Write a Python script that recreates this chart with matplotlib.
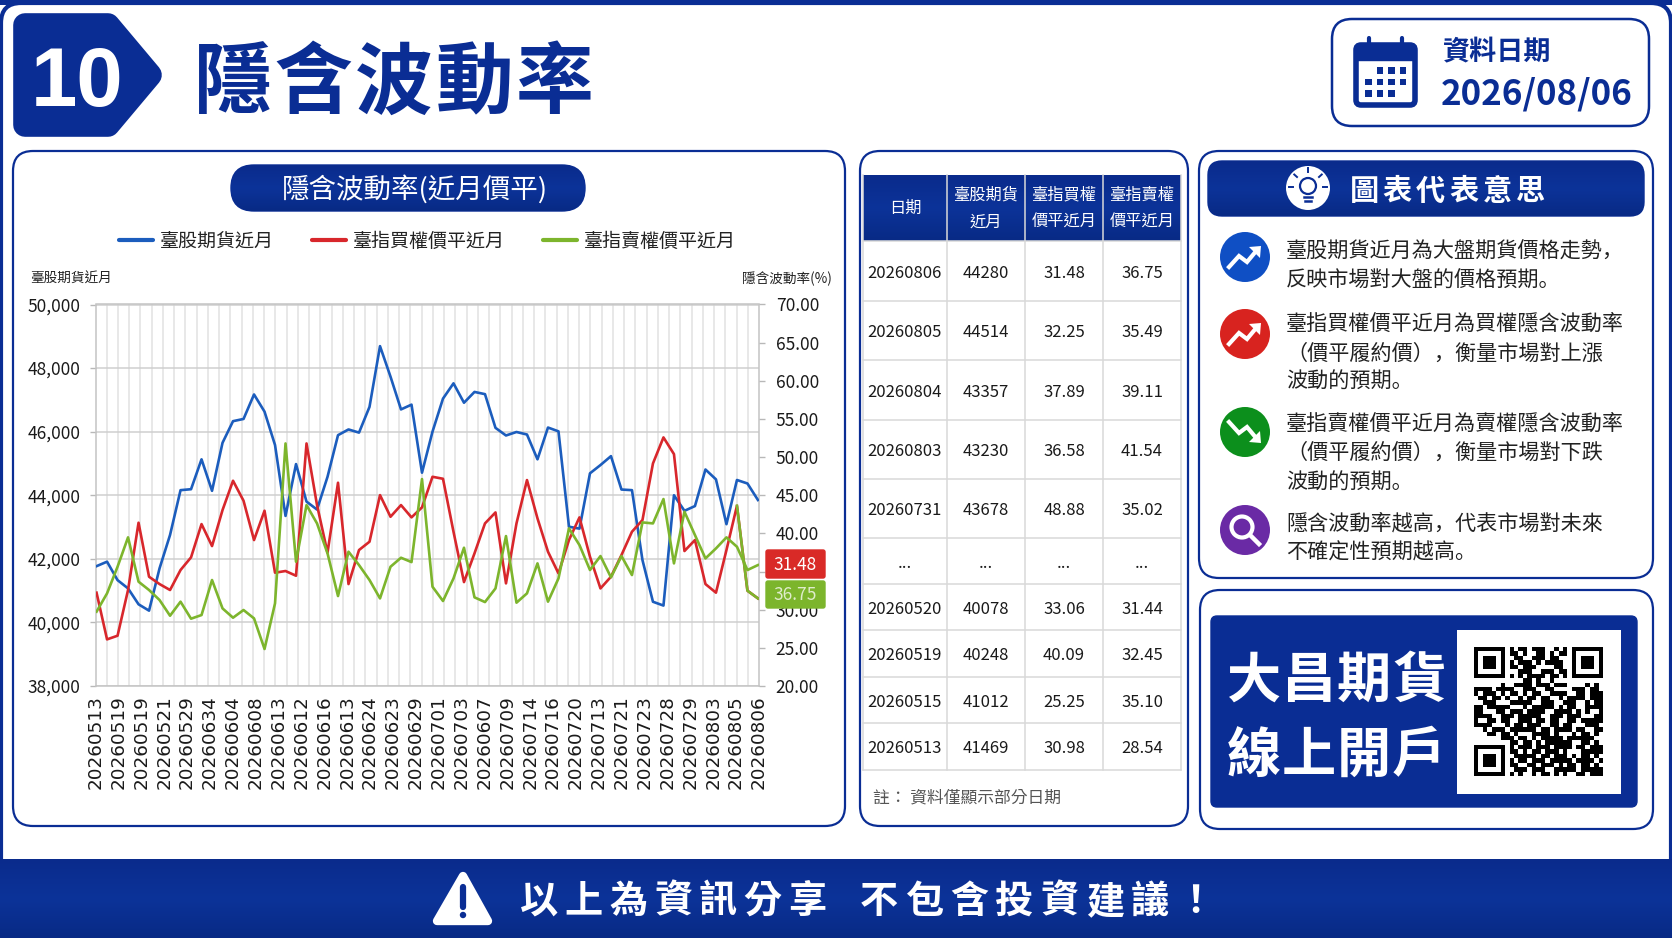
#!/usr/bin/env python3
from __future__ import annotations

import matplotlib

matplotlib.use("Agg")

import matplotlib.pyplot as plt
import numpy as np
from matplotlib.colors import LinearSegmentedColormap
from matplotlib.patches import Circle, FancyBboxPatch, Polygon, Rectangle

WIDTH, HEIGHT = 1672, 941
NAVY = "#0a2d94"
BLUE = "#1c5dbd"
RED = "#d8272c"
GREEN = "#7db52d"
CJK = "Noto Sans CJK TC"
CJK_BODY = "Noto Sans CJK SC"

# chart data
tick_dates = [
    "20260513", "20260519", "20260519", "20260521", "20260529", "20260634", "20260604", "20260608",
    "20260613", "20260612", "20260616", "20260613", "20260624", "20260623", "20260629", "20260701",
    "20260703", "20260607", "20260709", "20260714", "20260716", "20260720", "20260713", "20260721",
    "20260723", "20260728", "20260729", "20260803", "20260805", "20260806",
]
futures = [
    41770, 41910, 41330, 41070, 40570, 40370, 41700, 42750, 44160, 44190, 45130, 44140, 45650, 46330, 46400, 47170,
    46630, 45580, 43350, 44980, 43800, 43550, 44580, 45890, 46070, 45970, 46780, 48690, 47730, 46700, 46850, 44710,
    46000, 47040, 47520, 46910, 47250, 47180, 46120, 45880, 45990, 45910, 45130, 46130, 46010, 43010, 42950, 44690,
    44950, 45230, 44180, 44160, 41960, 40650, 40530, 44000, 43510, 43660, 44810, 44500, 43090, 44480, 44370, 43850,
]
call_iv = [
    32.23, 26.11, 26.59, 32.58, 41.40, 34.32, 33.36, 32.58, 35.20, 36.86, 41.22, 38.34, 43.06, 46.90, 44.28, 39.13,
    42.97, 34.85, 35.07, 34.45, 51.79, 43.71, 37.47, 46.64, 33.36, 37.82, 38.91, 45.02, 42.18, 43.71, 42.10, 43.41,
    47.42, 47.16, 40.22, 33.62, 37.38, 41.31, 42.75, 33.45, 41.31, 46.99, 41.97, 37.60, 34.76, 39.13, 42.10, 36.94,
    32.79, 34.32, 37.16, 40.22, 41.75, 49.17, 52.58, 50.39, 37.69, 39.13, 33.36, 32.23, 37.82, 43.62, 32.49, 31.48,
]
put_iv = [
    29.74, 32.14, 35.63, 39.48, 33.67, 32.58, 31.27, 29.21, 31.05, 28.82, 29.30, 33.89, 30.17, 28.95, 29.96, 28.86,
    24.85, 30.83, 51.79, 36.29, 43.71, 41.31, 37.38, 31.79, 37.60, 35.85, 33.89, 31.48, 35.63, 36.81, 36.24, 47.12,
    33.01, 31.14, 34.10, 38.12, 31.62, 31.00, 32.79, 39.65, 30.92, 32.14, 36.07, 31.05, 34.10, 40.66, 38.47, 35.20,
    37.03, 34.24, 37.03, 34.54, 41.44, 41.31, 44.50, 36.07, 42.84, 39.78, 36.72, 38.03, 39.48, 38.25, 35.20, 35.85,
]
left_ticks = [38000, 40000, 42000, 44000, 46000, 48000, 50000]
right_ticks = [20, 25, 30, 35, 40, 45, 50, 55, 60, 65, 70]
legend_names = ["臺股期貨近月", "臺指買權價平近月", "臺指賣權價平近月"]

# table data
table_head = [["日期"], ["臺股期貨", "近月"], ["臺指買權", "價平近月"], ["臺指賣權", "價平近月"]]
table_dates = ["20260806", "20260805", "20260804", "20260803", "20260731", "...", "20260520", "20260519", "20260515", "20260513"]
table_futures = ["44280", "44514", "43357", "43230", "43678", "...", "40078", "40248", "41012", "41469"]
table_call = ["31.48", "32.25", "37.89", "36.58", "48.88", "...", "33.06", "40.09", "25.25", "30.98"]
table_put = ["36.75", "35.49", "39.11", "41.54", "35.02", "...", "31.44", "32.45", "35.10", "28.54"]

explain_lines = [
    ["臺股期貨近月為大盤期貨價格走勢，", "反映市場對大盤的價格預期。"],
    ["臺指買權價平近月為買權隱含波動率", "（價平履約價），衡量市場對上漲", "波動的預期。"],
    ["臺指賣權價平近月為賣權隱含波動率", "（價平履約價），衡量市場對下跌", "波動的預期。"],
    ["隱含波動率越高，代表市場對未來", "不確定性預期越高。"],
]

qr_rows = [
    "11111110101101110010101111111",
    "10000010110100110101101000001",
    "10111010011001110110001011101",
    "10111010101110101111001011101",
    "10111010110111000011001011101",
    "10000010001110011101101000001",
    "11111110101011110110101111111",
    "00000000000110100100000000000",
    "00000010011110111011100001010",
    "11110111100111001100001110110",
    "10111010110101100111100110111",
    "01101101001011011001011110111",
    "00111000111110011100111001011",
    "11011111000101111101011001111",
    "11000110111011110011110101001",
    "11110011101111100111011100011",
    "10011011001110110110011011111",
    "11110001011011100110110001110",
    "00101110111111011011110110011",
    "00011011010001111010001011010",
    "00000011101101011111011111100",
    "00000000110110101111110011010",
    "11111110101110111011110110111",
    "10000010110101101110100011111",
    "10111010011111011011101011010",
    "10111010101101110111110111101",
    "10111010110011011101011011010",
    "10000010011101110011111011111",
    "11111110101001011010100110111",
]


def round_box(ax, x0, y0, x1, y1, radius, face="white", edge=NAVY, lw=1.6, zorder=2):
    patch = FancyBboxPatch(
        (x0, y0), x1 - x0, y1 - y0,
        boxstyle=f"round,pad=0,rounding_size={radius}",
        facecolor=face, edgecolor=edge, linewidth=lw, zorder=zorder,
    )
    ax.add_patch(patch)
    return patch


def shaded(ax, patch, x0, y0, x1, y1, colors, zorder):
    # soft vertical shading on the navy bars, clipped to the bar outline
    cmap = LinearSegmentedColormap.from_list("bar", colors)
    ramp = np.linspace(0, 1, 64).reshape(-1, 1)
    image = ax.imshow(ramp, cmap=cmap, extent=(x0, x1, y1, y0), aspect="auto", zorder=zorder)
    image.set_clip_path(patch)


def label(ax, x, y, text, size, color="#1a1a1a", family=CJK, weight="normal", ha="center", zorder=6):
    # CJK boxes sit high with va="center", so nudge them down in proportion to the size
    ax.text(x, y + 0.12 * size, text, fontsize=size, color=color, family=family, fontweight=weight, ha=ha, va="center", zorder=zorder)


def spaced(ax, x, y, text, pitch, size, color, weight="bold"):
    # letter-spaced headings are placed one character at a time
    for i, char in enumerate(text):
        label(ax, x + i * pitch, y, char, size, color=color, weight=weight)


def trend_icon(ax, cx, cy, face, down=False):
    flip = -1 if down else 1
    ax.add_patch(Circle((cx, cy), 25, facecolor=face, edgecolor="none", zorder=3))
    xs = [cx - 16, cx - 6, cx + 2, cx + 12]
    ys = [cy + flip * 10, cy - flip * 1, cy + flip * 5, cy - flip * 7]
    ax.plot(xs, ys, color="white", lw=3, solid_joinstyle="miter", zorder=4)
    head = [(cx + 16, cy - flip * 11), (cx + 4, cy - flip * 10), (cx + 15, cy + flip * 1)]
    ax.add_patch(Polygon(head, closed=True, facecolor="white", edgecolor="none", zorder=4))


def draw_frame(bg):
    bg.add_patch(Rectangle((0, 0), WIDTH, 5, facecolor=NAVY, edgecolor="none", zorder=1))
    round_box(bg, 1, 3, WIDTH - 1, HEIGHT + 30, 20, face="white", edge=NAVY, lw=3, zorder=1)
    band = Rectangle((0, 859), WIDTH, 79, facecolor="#0a2f95", edgecolor="none", zorder=2)
    bg.add_patch(band)
    shaded(bg, band, 0, 859, WIDTH, 938, ["#0a2b8c", "#0c3399", "#082a85"], 2.5)
    bg.add_patch(Rectangle((0, 938), WIDTH, 3, facecolor="white", edgecolor="none", zorder=2))


def draw_header(bg):
    badge = [(25, 25), (108, 25), (150, 75), (108, 125), (25, 125)]
    bg.add_patch(Polygon(badge, closed=True, facecolor=NAVY, edgecolor=NAVY, linewidth=17, joinstyle="round", zorder=2))
    label(bg, 77, 77, "10", 60, color="white", family="Liberation Sans", weight="bold")
    spaced(bg, 233, 78, "隱含波動率", 80.5, 56, NAVY)

    round_box(bg, 1332, 19, 1649, 126, 20, lw=1.8)
    # calendar icon
    round_box(bg, 1356, 45, 1415, 105, 5, face="white", edge=NAVY, lw=4, zorder=3)
    bg.add_patch(Rectangle((1356, 45), 59, 15, facecolor=NAVY, edgecolor=NAVY, zorder=3))
    for x in (1369, 1402):
        bg.plot([x, x], [38, 50], color=NAVY, lw=3, zorder=4, solid_capstyle="round")
    for row, cols in enumerate([(1, 2, 3), (0, 1, 2, 3), (0, 1, 2)]):
        for col in cols:
            bg.add_patch(Rectangle((1365 + col * 11.5, 67 + row * 11.5), 6.5, 6.5, facecolor=NAVY, edgecolor="none", zorder=4))
    label(bg, 1497, 50, "資料日期", 19.5, color=NAVY, weight="bold")
    label(bg, 1537, 91, "2026/08/06", 25.2, color=NAVY, weight="bold")


def draw_chart_panel(bg):
    round_box(bg, 13, 151, 845, 826, 20)
    pill = round_box(bg, 231, 165, 585, 211, 23, face=NAVY, edge=NAVY, lw=1)
    shaded(bg, pill, 231, 165, 585, 211, ["#0a2b8c", "#0c3399", "#082a85"], 2.5)
    label(bg, 415, 187, "隱含波動率(近月價平)", 19.8, color="white")

    colors = [BLUE, RED, GREEN]
    line_x = [119, 312, 543]
    for name, color, x in zip(legend_names, colors, line_x):
        bg.plot([x, x + 34], [240, 240], color=color, lw=3, solid_capstyle="round", zorder=4)
        label(bg, x + 41, 240, name, 13.7, ha="left", color="#222222")
    label(bg, 30, 278, legend_names[0], 9.8, ha="left", color="#222222")
    label(bg, 832, 278, "隱含波動率(%)", 9.8, ha="right", color="#222222")


def draw_chart(fig):
    ax = fig.add_axes([95.5 / WIDTH, 1 - 686 / HEIGHT, (759 - 95.5) / WIDTH, (686 - 304.5) / HEIGHT])
    ax.patch.set_alpha(0)
    x = np.arange(len(futures))
    ax.set_xlim(-0.1, len(futures) - 0.9)
    ax.set_ylim(left_ticks[0], left_ticks[-1])
    ax.set_yticks(left_ticks, [f"{v:,}" for v in left_ticks], family=CJK, fontsize=12.5, color="#1a1a1a")
    ax.tick_params(axis="y", length=4, width=1, color="#b8b8b8", pad=7)
    ax.set_xticks(np.linspace(-0.1, len(futures) - 0.9, len(tick_dates)), tick_dates, rotation=90, fontsize=13.2, color="#1a1a1a", family="DejaVu Sans")
    ax.tick_params(axis="x", length=0, pad=6.5)
    ax.set_xticks(np.linspace(-0.1, len(futures) - 0.9, 60), minor=True)
    ax.tick_params(axis="x", which="minor", length=0)
    ax.grid(True, axis="x", which="minor", color="#e2e2e2", lw=1.1)
    ax.grid(True, axis="y", which="major", color="#cfcfcf", lw=1.1)
    ax.set_axisbelow(True)
    for side in ("top", "left", "bottom", "right"):
        ax.spines[side].set_color("#c4c4c4")
        ax.spines[side].set_linewidth(1.1)
    ax.plot(x, futures, color=BLUE, lw=1.9, zorder=3)

    ax2 = ax.twinx()
    ax2.set_ylim(right_ticks[0], right_ticks[-1])
    # 35.00 lies wholly behind the red value tag in the reference
    right_labels = ["" if v == 35 else f"{v:.2f}" for v in right_ticks]
    ax2.set_yticks(right_ticks, right_labels, family=CJK, fontsize=12.5, color="#1a1a1a")
    ax2.tick_params(axis="y", length=4, width=1, color="#b8b8b8", pad=8)
    for side in ax2.spines.values():
        side.set_visible(False)
    ax2.plot(x, call_iv, color=RED, lw=1.9, zorder=3)
    # the reference paints the last stretch of the call line in the put colour
    ax2.plot(x[-3:], call_iv[-3:], color=GREEN, lw=1.9, zorder=3)
    ax2.plot(x, put_iv, color=GREEN, lw=1.9, zorder=4)


def draw_value_tags(top):
    round_box(top, 766, 550, 825, 578, 2, face="#d92a27", edge="#d92a27", lw=1)
    label(top, 795.5, 563, "31.48", 12.5, color="white")
    round_box(top, 766, 581, 825, 608, 2, face="#7cb52c", edge="#7cb52c", lw=1)
    label(top, 795.5, 593.5, "36.75", 12.5, color="#dfeccb")


def draw_table(bg):
    round_box(bg, 860, 151, 1188, 826, 20)
    cols = [863, 947, 1025, 1103, 1181]
    rows = [241, 301, 360, 420, 479, 538, 584, 630, 677, 723, 770]
    centers = [(a + b) / 2 for a, b in zip(cols, cols[1:])]
    head = Rectangle((cols[0], 175), cols[-1] - cols[0], rows[0] - 175, facecolor=NAVY, edgecolor="none", zorder=3)
    bg.add_patch(head)
    shaded(bg, head, cols[0], 175, cols[-1], rows[0], ["#0a2b8c", "#0c3399", "#082a85"], 3.5)
    for x in cols:
        bg.plot([x, x], [175, rows[-1]], color="#d9d9d9", lw=1.1, zorder=4)
    for y in rows:
        bg.plot([cols[0], cols[-1]], [y, y], color="#d9d9d9", lw=1.1, zorder=4)
    for center, lines in zip(centers, table_head):
        ys = [207] if len(lines) == 1 else [194, 221]
        for y, text in zip(ys, lines):
            label(bg, center, y, text, 11.7, color="white")
    for c, column in enumerate([table_dates, table_futures, table_call, table_put]):
        for r, text in enumerate(column):
            label(bg, centers[c], (rows[r] + rows[r + 1]) / 2 + 1, text, 12)
    label(bg, 873, 797, "註： 資料僅顯示部分日期", 12.1, ha="left", color="#555555")


def draw_explain(bg):
    round_box(bg, 1199, 151, 1653, 578, 20)
    bar = round_box(bg, 1208, 161, 1644, 216, 14, face=NAVY, edge=NAVY, lw=1, zorder=3)
    shaded(bg, bar, 1208, 161, 1644, 216, ["#0a2b8c", "#0c3399", "#082a85"], 3.5)
    bg.add_patch(Circle((1308, 188), 22, facecolor="white", edgecolor="none", zorder=4))
    bg.add_patch(Circle((1308, 186), 8, facecolor="white", edgecolor=NAVY, lw=1.6, zorder=5))
    bg.plot([1304, 1312], [197, 197], color=NAVY, lw=1.8, zorder=5)
    bg.plot([1305, 1311], [201, 201], color=NAVY, lw=1.8, zorder=5)
    for dx, dy in [(0, -15), (-11, -10), (11, -10), (-15, 0), (15, 0)]:
        bg.plot([1308 + dx, 1308 + dx * 1.25], [187 + dy, 187 + dy * 1.25], color=NAVY, lw=1.4, zorder=5)
    spaced(bg, 1364, 188, "圖表代表意思", 33.3, 21, "white", weight="bold")

    trend_icon(bg, 1245, 257, "#0f4fc4")
    trend_icon(bg, 1245, 334, "#d8231f")
    trend_icon(bg, 1245, 432, "#0c8f1c", down=True)
    bg.add_patch(Circle((1245, 530), 25, facecolor="#6a2aa5", edgecolor="none", zorder=3))
    bg.add_patch(Circle((1242, 527), 10.5, facecolor="none", edgecolor="white", lw=3, zorder=4))
    bg.plot([1250, 1259], [535, 544], color="white", lw=3.2, zorder=4)

    line_ys = [[250, 279], [322, 352, 380], [422, 451, 481], [522, 551]]
    for lines, ys in zip(explain_lines, line_ys):
        for text, y in zip(lines, ys):
            label(bg, 1286, y, text, 15.2, ha="left", family=CJK_BODY, color="#222222")


def draw_account(bg):
    round_box(bg, 1200, 590, 1653, 829, 20)
    round_box(bg, 1211, 616, 1637, 807, 6, face=NAVY, edge=NAVY, lw=1, zorder=3)
    spaced(bg, 1254, 677, "大昌期貨", 55, 39, "white")
    spaced(bg, 1254, 752, "線上開戶", 55, 39, "white")
    bg.add_patch(Rectangle((1457, 630), 164, 164, facecolor="white", edgecolor="none", zorder=4))
    matrix = np.array([[int(c) for c in row] for row in qr_rows])
    bg.imshow(matrix, cmap="gray_r", extent=(1474, 1603, 776, 647), aspect="auto", interpolation="nearest", zorder=5)


def draw_footer(bg):
    corners = [(463, 876), (437, 921), (488, 921)]
    bg.add_patch(Polygon(corners, closed=True, facecolor="white", edgecolor="white", linewidth=6, joinstyle="round", zorder=4))
    bg.plot([463, 463], [887, 907], color=NAVY, lw=4.5, solid_capstyle="round", zorder=5)
    bg.add_patch(Circle((463, 915), 3.2, facecolor=NAVY, edgecolor="none", zorder=5))
    spaced(bg, 539, 898, "以上為資訊分享", 44.7, 27.5, "white")
    spaced(bg, 879, 898, "不包含投資建議！", 45.2, 27.5, "white")


if __name__ == "__main__":
    fig = plt.figure(figsize=(WIDTH / 100, HEIGHT / 100), dpi=100, facecolor="white")
    bg = fig.add_axes([0, 0, 1, 1], zorder=0)

    draw_frame(bg)
    draw_header(bg)
    draw_chart_panel(bg)
    draw_table(bg)
    draw_explain(bg)
    draw_account(bg)
    draw_footer(bg)
    bg.set_xlim(0, WIDTH)
    bg.set_ylim(HEIGHT, 0)
    bg.axis("off")

    draw_chart(fig)

    top = fig.add_axes([0, 0, 1, 1], zorder=10)
    top.patch.set_alpha(0)
    draw_value_tags(top)
    top.set_xlim(0, WIDTH)
    top.set_ylim(HEIGHT, 0)
    top.axis("off")

    fig.savefig("out.png", dpi=100)
    plt.close(fig)
